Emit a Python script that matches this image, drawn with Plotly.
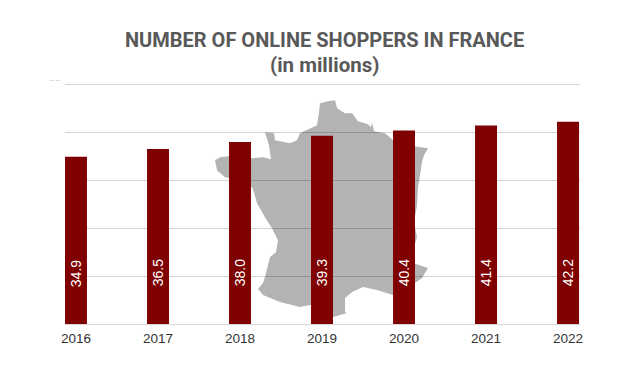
import plotly.graph_objects as go

years = ["2016", "2017", "2018", "2019", "2020", "2021", "2022"]
shoppers = [34.9, 36.5, 38.0, 39.3, 40.4, 41.4, 42.2]
title_lines = ["NUMBER OF ONLINE SHOPPERS IN FRANCE", "(in millions)"]

W, H = 623, 368
L, R, T, B = 65, 580, 81.6, 324

# decorative outline of France, in pixels of the picture
france = [(320,103),(328,101),(335,100),(337,108),(345,113),(352,113),(358,121),(368,124),(371,127),(372,122),
          (374,131),(385,133),(393,140),(402,145),(414,146),(428,148),(424,155),(422,162),(420,175),(418,187),
          (417,205),(414,222),(417,237),(413,250),(413,263),(428,268),(422,278),(415,283),(400,293),(393,295),
          (377,290),(363,287),(352,292),(345,298),(345,312),(347,313),(333,317),(322,312),(310,305),(300,307),
          (280,302),(263,295),(258,289),(263,283),(265,277),(270,257),(276,252),(278,240),(272,228),(265,217),
          (257,203),(254,192),(252,187),(240,183),(230,178),(225,177),(217,170),(215,160),(220,157),(237,155),
          (252,158),(263,157),(271,159),(269,145),(265,132),(274,133),(275,140),(290,143),(297,140),(300,133),
          (317,125),(319,112)]

def px(x):
    return (x - L) / (R - L)

def py(y):
    return (B - y) / (B - T)

path = "M " + " L ".join(f"{px(x):.4f},{py(y):.4f}" for x, y in france) + " Z"

fig = go.Figure(go.Bar(
    x=years, y=shoppers, width=0.268,
    marker=dict(color="#7f0000", line=dict(width=0)),
    hoverinfo="x+y",
))

annotations = [
    dict(x=i, y=10.6, xref="x", yref="y", yanchor="middle", text=f"{v:.1f}", textangle=-90, showarrow=False,
         font=dict(family="Liberation Sans", size=14, color="#ffffff"))
    for i, v in enumerate(shoppers)
]
annotations += [
    dict(x=px(324.5), y=py(40), xref="paper", yref="paper", yanchor="middle", text=f"<b>{title_lines[0]}</b>",
         showarrow=False, font=dict(family="Roboto", size=20, color="#595959")),
    dict(x=px(324), y=py(65), xref="paper", yref="paper", yanchor="middle", text=f"<b>{title_lines[1]}</b>",
         showarrow=False, font=dict(family="Roboto", size=20.5, color="#595959")),
    dict(x=px(47.5), y=py(79), xref="paper", yref="paper", yanchor="middle", text="– –", showarrow=False,
         font=dict(family="Liberation Sans", size=7, color="#bdbdbd")),
]
fig.update_layout(
    width=W, height=H, autosize=False,
    margin=dict(l=L, r=W-R, t=T, b=H-B, pad=0),
    paper_bgcolor="#ffffff", plot_bgcolor="rgba(0,0,0,0)",
    showlegend=False, annotations=annotations,
    shapes=[dict(type="path", xref="paper", yref="paper", path=path, layer="below",
                 fillcolor="#b3b3b3", line=dict(width=0))],
    xaxis=dict(type="category", range=[-0.134, 6.146], showgrid=False, ticks="", showline=True,
               linecolor="#d9d9d9", linewidth=1, ticklabelstandoff=2,
               tickfont=dict(family="Liberation Sans", size=13.5, color="#333333")),
    yaxis=dict(range=[0, 50.5], dtick=10, showticklabels=False, ticks="", zeroline=False,
               showgrid=True, gridcolor="rgba(0,0,0,0.17)", gridwidth=1),
)
fig.write_html("out.html", post_script="document.body.style.margin='0';", config={"displayModeBar": False})
